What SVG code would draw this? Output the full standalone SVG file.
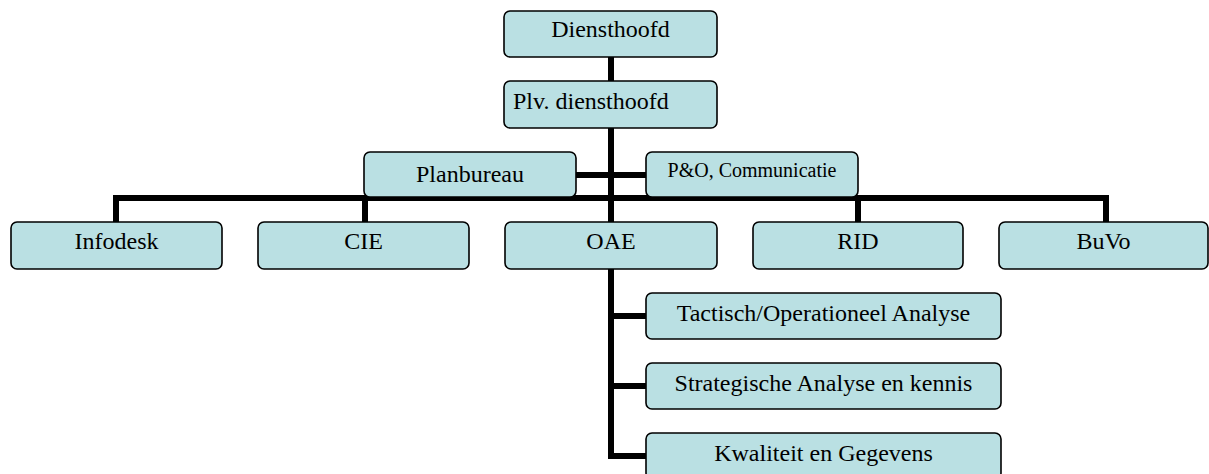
<svg xmlns="http://www.w3.org/2000/svg" width="1209" height="474" viewBox="0 0 1209 474">
<style>
.box{fill:#BAE0E3;stroke:#000;stroke-width:1.6}
.t{font-family:"Liberation Serif","Times New Roman",serif;font-size:24px;fill:#000;text-anchor:middle}
.s{font-size:20px}
.c{fill:none;stroke:#000;stroke-width:6;stroke-linejoin:miter;stroke-linecap:butt}
</style>
<rect width="1209" height="474" fill="#fff"/>
<g id="connectors" class="c">
<path d="M611,57 V222"/>
<path d="M576,175 H646"/>
<path d="M116,222 V198 H1106 V222"/>
<path d="M365,198 V222"/>
<path d="M858,198 V222"/>
<path d="M611,269 V456 H646"/>
<path d="M611,316 H646"/>
<path d="M611,386 H646"/>
</g>
<g id="n-diensthoofd"><rect class="box" x="504" y="11" width="213" height="46" rx="6"/><text class="t" x="610.5" y="37">Diensthoofd</text></g>
<g id="n-plv"><rect class="box" x="504" y="81" width="213" height="47" rx="6"/><text class="t" x="513" y="109" text-anchor="start" style="text-anchor:start">Plv. diensthoofd</text></g>
<g id="n-planbureau"><rect class="box" x="364" y="152" width="212" height="45" rx="6"/><text class="t" x="470" y="182">Planbureau</text></g>
<g id="n-po"><rect class="box" x="646" y="152" width="212" height="45" rx="6"/><text class="t s" x="752" y="177">P&amp;O, Communicatie</text></g>
<g id="n-infodesk"><rect class="box" x="11" y="222" width="211" height="47" rx="6"/><text class="t" x="116.5" y="249">Infodesk</text></g>
<g id="n-cie"><rect class="box" x="258" y="222" width="211" height="47" rx="6"/><text class="t" x="363.5" y="249">CIE</text></g>
<g id="n-oae"><rect class="box" x="505" y="222" width="212" height="47" rx="6"/><text class="t" x="611" y="249">OAE</text></g>
<g id="n-rid"><rect class="box" x="753" y="222" width="210" height="47" rx="6"/><text class="t" x="858" y="249">RID</text></g>
<g id="n-buvo"><rect class="box" x="999" y="222" width="209" height="47" rx="6"/><text class="t" x="1103.5" y="249">BuVo</text></g>
<g id="n-tactisch"><rect class="box" x="646" y="293" width="355" height="46" rx="6"/><text class="t" x="823.5" y="321">Tactisch/Operationeel Analyse</text></g>
<g id="n-strategisch"><rect class="box" x="646" y="363" width="355" height="46" rx="6"/><text class="t" x="823.5" y="391">Strategische Analyse en kennis</text></g>
<g id="n-kwaliteit"><rect class="box" x="646" y="433" width="355" height="46" rx="6"/><text class="t" x="823.5" y="461">Kwaliteit en Gegevens</text></g>
</svg>
